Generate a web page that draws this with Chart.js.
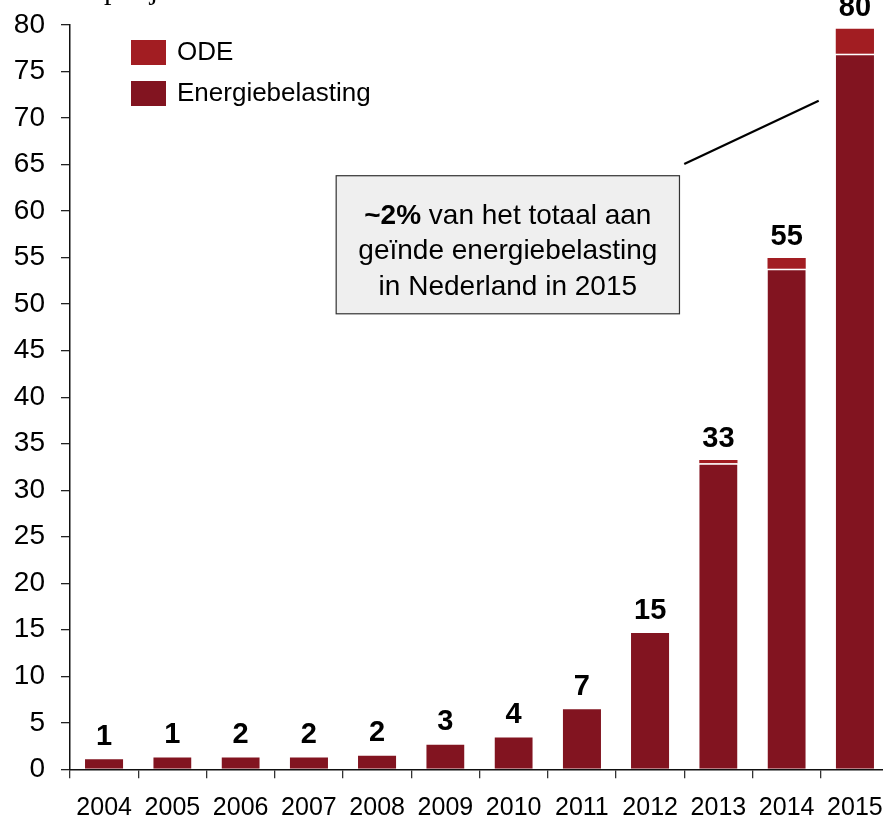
<!DOCTYPE html>
<html>
<head>
<meta charset="utf-8">
<script src="https://cdn.jsdelivr.net/npm/chart.js@4"></script>
<style>
  html, body { margin: 0; padding: 0; overflow: hidden; background: #fff; width: 883px; height: 822px; }
  canvas { display: block; }
</style>
</head>
<body>
<canvas id="c" width="889" height="822" style="width:889px;height:822px"></canvas>
<script>
// ---- Data ----
const years = ["2004","2005","2006","2007","2008","2009","2010","2011","2012","2013","2014","2015"];
const energiebelasting = [1.25, 1.43, 1.43, 1.43, 1.61, 2.8, 3.58, 6.62, 14.8, 32.9, 53.8, 76.9];
const ode = [null, null, null, null, null, null, null, null, null, 0.35, 1.15, 2.7];
const totalLabels = ["1","1","2","2","2","3","4","7","15","33","55","80"];
const yTicks = [0,5,10,15,20,25,30,35,40,45,50,55,60,65,70,75,80];
const legendLabels = ["ODE", "Energiebelasting"];
const axisTitle = "per jaar";
const noteBold = "~2%";
const noteLines = [" van het totaal aan", "geïnde energiebelasting", "in Nederland in 2015"];

const COL_ODE = "#A21D22";
const COL_EB = "#821420";
const FONT = "'Liberation Sans', Arial, sans-serif";

const overlay = {
  id: "overlay",
  afterDatasetsDraw(chart) {
    const { ctx, scales: { x, y } } = chart;
    ctx.save();
    // data labels (totals)
    ctx.fillStyle = "#000";
    ctx.font = "bold 29px " + FONT;
    ctx.textAlign = "center";
    ctx.textBaseline = "alphabetic";
    years.forEach((yr, i) => {
      const tot = energiebelasting[i] + (ode[i] || 0);
      ctx.fillText(totalLabels[i], x.getPixelForValue(i), y.getPixelForValue(tot) - 13);
    });

    // legend
    const lx = 131, ly = 40;
    const cols = [COL_ODE, COL_EB];
    ctx.font = "26px " + FONT;
    ctx.textAlign = "left";
    ctx.textBaseline = "middle";
    legendLabels.forEach((lab, k) => {
      const top = ly + k * 41;
      ctx.fillStyle = cols[k];
      ctx.fillRect(lx, top, 35, 25);
      ctx.fillStyle = "#000";
      ctx.fillText(lab, lx + 46, top + 13);
    });

    // annotation connector line
    ctx.strokeStyle = "#000";
    ctx.lineWidth = 2.2;
    ctx.beginPath();
    ctx.moveTo(x.getPixelForValue(8.5), y.getPixelForValue(65.05));
    ctx.lineTo(x.getPixelForValue(10.47), y.getPixelForValue(71.86));
    ctx.stroke();

    // annotation box
    const bx1 = x.getPixelForValue(3.4), bx2 = x.getPixelForValue(8.43);
    const by1 = y.getPixelForValue(63.8), by2 = y.getPixelForValue(48.96);
    ctx.fillStyle = "#efefef";
    ctx.fillRect(bx1, by1, bx2 - bx1, by2 - by1);
    ctx.strokeStyle = "#333";
    ctx.lineWidth = 1.2;
    ctx.strokeRect(bx1, by1, bx2 - bx1, by2 - by1);

    const cx = (bx1 + bx2) / 2;
    const base1 = by1 + 48;
    ctx.textBaseline = "alphabetic";
    ctx.fillStyle = "#000";
    ctx.font = "bold 28px " + FONT;
    const wB = ctx.measureText(noteBold).width;
    ctx.font = "28px " + FONT;
    const wR = ctx.measureText(noteLines[0]).width;
    let sx = cx - (wB + wR) / 2;
    ctx.textAlign = "left";
    ctx.font = "bold 28px " + FONT;
    ctx.fillText(noteBold, sx, base1);
    ctx.font = "28px " + FONT;
    ctx.fillText(noteLines[0], sx + wB, base1);
    ctx.textAlign = "center";
    ctx.fillText(noteLines[1], cx, base1 + 35.5);
    ctx.fillText(noteLines[2], cx, base1 + 71);

    // cut-off axis title at top
    ctx.textAlign = "left";
    ctx.font = "30px 'Liberation Serif', 'Times New Roman', serif";
    ctx.fillText(axisTitle, 104, -1.5);
    ctx.restore();
  }
};

new Chart(document.getElementById("c"), {
  type: "bar",
  data: {
    labels: years,
    datasets: [
      {
        label: legendLabels[1],
        data: energiebelasting,
        backgroundColor: COL_EB,
        borderColor: "#ffffff",
        borderWidth: { top: 1.5, left: 0, right: 0, bottom: 0 },
        borderSkipped: false,
        stack: "s"
      },
      {
        label: legendLabels[0],
        data: ode,
        backgroundColor: COL_ODE,
        borderWidth: 0,
        stack: "s"
      }
    ]
  },
  options: {
    responsive: false,
    animation: false,
    devicePixelRatio: 1,
    layout: { padding: { top: 25, left: 0, right: 0, bottom: 0 } },
    plugins: { legend: { display: false }, tooltip: { enabled: false }, title: { display: false } },
    datasets: { bar: { categoryPercentage: 1.0, barPercentage: 0.56 } },
    scales: {
      x: {
        stacked: true,
        afterFit(s) { s.height = 52.7; s.paddingLeft = 0; s.paddingRight = 0; },
        grid: { display: true, drawOnChartArea: false, drawTicks: true, tickLength: 9, color: "#333", lineWidth: 1.3, offset: true },
        border: { display: true, color: "#111", width: 1.5 },
        ticks: { color: "#000", font: { family: FONT, size: 25 }, padding: 15, maxRotation: 0, autoSkip: false }
      },
      y: {
        stacked: true,
        min: 0, max: 80,
        afterFit(s) { s.width = 70; s.paddingTop = 0; s.paddingBottom = 0; },
        afterBuildTicks(s) { s.ticks = yTicks.map(v => ({ value: v })); },
        grid: { display: true, drawOnChartArea: false, drawTicks: true, tickLength: 9, color: "#222", lineWidth: 1.3 },
        border: { display: true, color: "#111", width: 1.5 },
        ticks: { color: "#000", font: { family: FONT, size: 28 }, padding: 16 }
      }
    }
  },
  plugins: [overlay]
});
</script>
</body>
</html>
